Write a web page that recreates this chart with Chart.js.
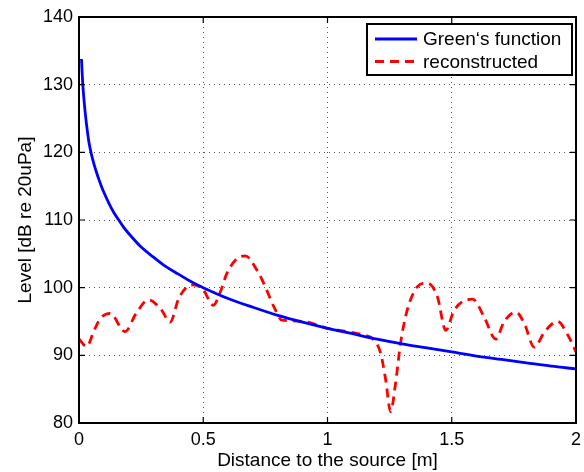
<!DOCTYPE html>
<html>
<head>
<meta charset="utf-8">
<script src="https://cdn.jsdelivr.net/npm/chart.js@4/dist/chart.umd.min.js"></script>
<style>
  html, body { margin: 0; padding: 0; background: #fff; }
  #wrap { width: 584px; height: 472px; }
</style>
</head>
<body>
<div id="wrap"><canvas id="levelChart" width="584" height="472"></canvas></div>
<script>
// free-field Green's function level vs distance
const greenX = [0.01, 0.012, 0.015, 0.02, 0.03, 0.04, 0.05, 0.06, 0.07, 0.08, 0.09, 0.1, 0.12, 0.14, 0.16, 0.18, 0.2,
                0.25, 0.3, 0.35, 0.4, 0.45, 0.5, 0.6, 0.7, 0.8, 0.9, 1.0, 1.1, 1.2, 1.3, 1.4, 1.5, 1.6, 1.7, 1.8, 1.9, 2.0];
const greenLevel = [133.8, 132.2, 130.2, 127.8, 124.2, 121.5, 119.7, 118.3, 117.1, 116, 115, 114.1, 112.5, 111.1, 110,
                    108.9, 108, 106, 104.5, 103.1, 102, 100.9, 100, 98.4, 97.1, 95.9, 94.9, 94, 93.2, 92.4, 91.7, 91.1,
                    90.5, 89.9, 89.4, 88.9, 88.4, 88];

// reconstructed level
const reconX = [0, 0.031, 0.06, 0.085, 0.125, 0.185, 0.23, 0.28, 0.33, 0.367, 0.4, 0.434, 0.46, 0.5, 0.54, 0.569,
                0.595, 0.636, 0.669, 0.716, 0.75, 0.784, 0.817, 0.863, 0.92, 1.0, 1.08, 1.146, 1.18, 1.214, 1.234,
                1.254, 1.274, 1.294, 1.321, 1.361, 1.40, 1.442, 1.476, 1.51, 1.584, 1.63, 1.677, 1.711, 1.758, 1.792,
                1.832, 1.874, 1.926, 1.967, 2.0];
const reconLevel = [92.4, 91.3, 93.6, 95.4, 96.2, 93.5, 96.2, 98.2, 96.8, 94.9, 98.3, 100.1, 100.4, 99.7, 97.4, 99.4,
                    102.1, 104.3, 104.7, 102.6, 100.1, 97.2, 95.2, 95.1, 94.9, 94, 93.5, 93, 92.5, 90.3, 86.4,
                    81.7, 85.9, 91.8, 96.7, 100.1, 100.7, 98.7, 93.7, 96.7, 98.3, 95.7, 92.4, 95, 96.4, 94.7,
                    91.2, 93.5, 95, 93, 90.5];

const xTicks = [0, 0.5, 1, 1.5, 2];
const yTicks = [80, 90, 100, 110, 120, 130, 140];
const seriesNames = ['Green\u2018s function', 'reconstructed'];

const FONT = "'Liberation Sans', Arial, Helvetica, sans-serif";
Chart.defaults.font.family = FONT;
Chart.defaults.color = '#000';

const toPoints = (xs, ys) => xs.map((x, i) => ({ x: x, y: ys[i] }));

// black box round the axes, with short inward tick marks on every side
const framePlugin = {
    id: 'frame',
    afterDatasetsDraw(chart) {
        const { ctx, chartArea: a, scales } = chart;
        const len = 6;
        ctx.save();
        ctx.strokeStyle = '#000';
        ctx.lineWidth = 1.2;
        ctx.beginPath();
        xTicks.forEach(v => {
            const px = scales.x.getPixelForValue(v);
            ctx.moveTo(px, a.bottom); ctx.lineTo(px, a.bottom - len);
            ctx.moveTo(px, a.top); ctx.lineTo(px, a.top + len);
        });
        yTicks.forEach(v => {
            const py = scales.y.getPixelForValue(v);
            ctx.moveTo(a.left, py); ctx.lineTo(a.left + len, py);
            ctx.moveTo(a.right, py); ctx.lineTo(a.right - len, py);
        });
        ctx.stroke();
        ctx.lineWidth = 2;
        ctx.strokeRect(a.left, a.top, a.right - a.left, a.bottom - a.top);
        ctx.restore();
    }
};

// legend box in the upper right corner
const legendBoxPlugin = {
    id: 'legendBox',
    afterDraw(chart) {
        const { ctx, chartArea: a } = chart;
        const w = 205, h = 51;
        const x0 = a.right - 4 - w, y0 = a.top + 7;
        ctx.save();
        ctx.fillStyle = '#fff';
        ctx.fillRect(x0, y0, w, h);
        ctx.strokeStyle = '#000';
        ctx.lineWidth = 2;
        ctx.strokeRect(x0, y0, w, h);
        const rows = [y0 + 15, y0 + 37.5];
        chart.data.datasets.forEach((ds, i) => {
            ctx.beginPath();
            ctx.strokeStyle = ds.borderColor;
            ctx.lineWidth = ds.borderWidth;
            ctx.setLineDash(ds.borderDash || []);
            ctx.moveTo(x0 + 8, rows[i]);
            ctx.lineTo(x0 + 50, rows[i]);
            ctx.stroke();
            ctx.setLineDash([]);
            ctx.fillStyle = '#000';
            ctx.font = '19px ' + FONT;
            ctx.textBaseline = 'middle';
            ctx.fillText(ds.label, x0 + 56, rows[i] + 1);
        });
        ctx.restore();
    }
};

const ctxLevel = document.getElementById('levelChart').getContext('2d');
const levelChart = new Chart(ctxLevel, {
    type: 'line',
    data: {
        datasets: [
            {
                label: seriesNames[0],
                data: toPoints(greenX, greenLevel),
                borderColor: '#0000ff',
                borderWidth: 2.8,
                pointRadius: 0,
                cubicInterpolationMode: 'monotone'
            },
            {
                label: seriesNames[1],
                data: toPoints(reconX, reconLevel),
                borderColor: '#ff0000',
                borderWidth: 2.8,
                borderDash: [9, 6],
                pointRadius: 0,
                cubicInterpolationMode: 'monotone'
            }
        ]
    },
    options: {
        responsive: false,
        animation: false,
        layout: { padding: { left: 0, right: 8, top: 17, bottom: 0 } },
        plugins: {
            legend: { display: false },
            tooltip: { enabled: false }
        },
        scales: {
            x: {
                type: 'linear',
                min: 0,
                max: 2,
                afterBuildTicks: (s) => { s.ticks = xTicks.map(v => ({ value: v })); },
                afterFit: (s) => { s.height = 49; s.paddingLeft = 0; s.paddingRight = 0; },
                ticks: {
                    font: { size: 18 },
                    padding: 6,
                    maxRotation: 0,
                    callback: (v) => String(v)
                },
                grid: { color: '#555', lineWidth: 1, drawTicks: false },
                border: { display: false, dash: [1, 4] },
                title: {
                    display: true,
                    text: 'Distance to the source [m]',
                    font: { size: 19 },
                    padding: { top: 0, bottom: 0 }
                }
            },
            y: {
                min: 80,
                max: 140,
                afterBuildTicks: (s) => { s.ticks = yTicks.map(v => ({ value: v })); },
                afterFit: (s) => { s.width = 79; s.paddingTop = 0; s.paddingBottom = 0; },
                ticks: {
                    font: { size: 18 },
                    padding: 6,
                    callback: (v) => String(v)
                },
                grid: { color: '#555', lineWidth: 1, drawTicks: false },
                border: { display: false, dash: [1, 4] },
                title: {
                    display: true,
                    text: 'Level [dB re 20uPa]',
                    font: { size: 19 },
                    padding: { top: 14, bottom: 0 }
                }
            }
        }
    },
    plugins: [framePlugin, legendBoxPlugin]
});
</script>
</body>
</html>
